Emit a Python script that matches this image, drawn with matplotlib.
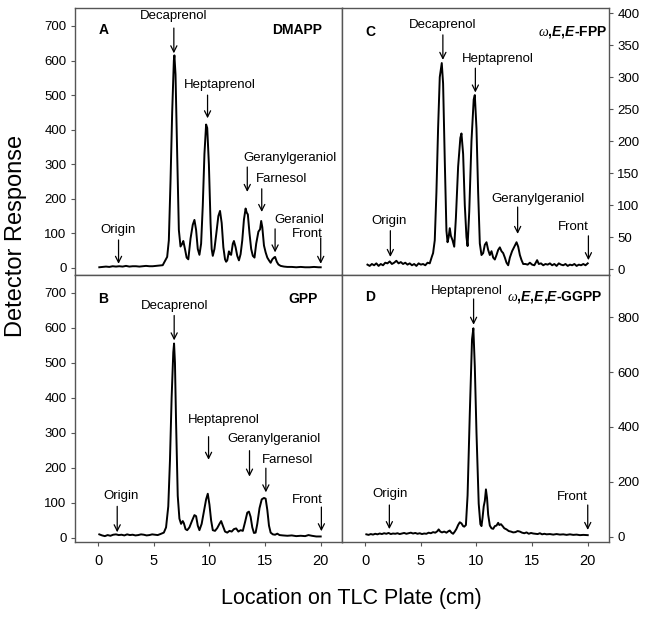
import matplotlib
matplotlib.use("Agg")
import matplotlib.pyplot as plt

plt.rcParams['font.family'] = ['Liberation Sans', 'DejaVu Sans']
plt.rcParams['mathtext.fontset'] = 'custom'
plt.rcParams['mathtext.it'] = 'Liberation Serif:italic'
plt.rcParams['mathtext.rm'] = 'Liberation Sans'
plt.rcParams['mathtext.bf'] = 'Liberation Sans:bold'
plt.rcParams['mathtext.bfit'] = 'Liberation Sans:bold:italic'

# ---- traces (cm, detector response) ----
a_x = [0.1, 0.4, 0.7, 1.0, 1.3, 1.6, 1.9, 2.2, 2.5, 2.8, 3.1, 3.4, 3.7, 4.0, 4.3, 4.6, 4.9, 5.2, 5.5, 5.8,
       6.0, 6.2, 6.35, 6.5, 6.65, 6.8, 6.85, 6.95, 7.1, 7.25, 7.4, 7.55, 7.65, 7.8, 7.95, 8.1, 8.3, 8.5, 8.65,
       8.8, 8.95, 9.1, 9.25, 9.4, 9.55, 9.7, 9.8, 9.95, 10.1, 10.2, 10.3, 10.45, 10.6, 10.8, 10.95, 11.1, 11.25,
       11.4, 11.5, 11.6, 11.75, 11.85, 11.95, 12.1, 12.2, 12.35, 12.5, 12.65, 12.8, 12.95, 13.1, 13.25, 13.35,
       13.45, 13.6, 13.75, 13.9, 14.05, 14.2, 14.4, 14.55, 14.65, 14.75, 14.9, 15.05, 15.2, 15.35, 15.5, 15.65,
       15.8, 15.9, 16.05, 16.2, 16.4, 16.7, 17.0, 17.4, 17.8, 18.2, 18.6, 19.0, 19.4, 19.8, 20.0]
a_y = [2, 3, 4, 3, 5, 4, 5, 4, 6, 4, 5, 5, 4, 5, 6, 5, 5, 6, 7, 8,
       20, 32, 80, 250, 450, 600, 615, 560, 330, 110, 62, 70, 78, 55, 30, 25, 85, 125, 139,
       110, 55, 38, 70, 180, 330, 415, 405, 300, 130, 55, 35, 55, 95, 150, 165, 130, 60,
       25, 18, 22, 48, 40, 38, 70, 78, 60, 35, 22, 40, 80, 140, 172, 160,
       155, 100, 55, 35, 30, 70, 105, 112, 136, 118, 65, 45, 30, 22, 15, 25,
       30, 32, 18, 10, 6, 4, 3, 3, 2, 3, 2, 2, 3, 2, 2]

b_x = [0.1, 0.35, 0.6, 0.85, 1.1, 1.35, 1.6, 1.85, 2.1, 2.35, 2.6, 2.85, 3.1, 3.35, 3.6, 3.85, 4.1, 4.35, 4.6, 4.85,
       5.1, 5.35, 5.6, 5.9, 6.1, 6.3, 6.45, 6.6, 6.75, 6.82, 6.9, 7.0, 7.15, 7.3, 7.45, 7.6, 7.7, 7.85, 8.0, 8.2,
       8.45, 8.65, 8.8, 8.95, 9.1, 9.3, 9.5, 9.7, 9.85, 10.0, 10.15, 10.3, 10.5, 10.7, 10.9, 11.05, 11.2, 11.4,
       11.6, 11.8, 12.0, 12.2, 12.4, 12.6, 12.8, 13.0, 13.2, 13.4, 13.55, 13.7, 13.85, 14.0, 14.15, 14.3, 14.5,
       14.7, 14.9, 15.05, 15.2, 15.35, 15.5, 15.7, 15.9, 16.1, 16.3, 16.6, 17.0, 17.4, 17.8, 18.2, 18.6, 18.9,
       19.2, 19.6, 20.0]
b_y = [10, 7, 5, 8, 6, 9, 10, 8, 9, 7, 10, 8, 9, 7, 8, 10, 9, 7, 8, 10,
       9, 8, 11, 15, 30, 90, 220, 400, 530, 555, 500, 330, 120, 55, 40, 48, 42, 25, 22, 30,
       50, 65, 62, 35, 22, 40, 75, 110, 126, 95, 50, 22, 20, 28, 40, 48, 35, 18,
       15, 20, 18, 25, 27, 18, 22, 20, 45, 72, 75, 60, 30, 14, 15, 40, 85,
       110, 114, 112, 80, 35, 15, 10, 9, 12, 8, 7, 6, 7, 5, 6, 5, 8,
       6, 4, 4]

c_x = [0.2, 0.4, 0.6, 0.8, 1.0, 1.2, 1.4, 1.6, 1.8, 2.0, 2.2, 2.4, 2.6, 2.8, 3.0, 3.2, 3.4, 3.6, 3.8, 4.0,
       4.2, 4.4, 4.6, 4.8, 5.0, 5.2, 5.4, 5.6, 5.8, 6.0, 6.1, 6.25, 6.4, 6.55, 6.7, 6.88, 7.0, 7.15, 7.3, 7.4,
       7.5, 7.6, 7.7, 7.85, 8.0, 8.15, 8.35, 8.55, 8.65, 8.8, 8.95, 9.1, 9.2, 9.35, 9.55, 9.75, 9.85, 10.0,
       10.15, 10.3, 10.45, 10.6, 10.75, 10.9, 11.05, 11.2, 11.35, 11.5, 11.65, 11.8, 11.95, 12.1, 12.25, 12.4,
       12.55, 12.7, 12.85, 13.0, 13.2, 13.4, 13.6, 13.75, 13.9, 14.05, 14.2, 14.4, 14.6, 14.8, 15.0, 15.2, 15.45,
       15.6, 15.8, 16.0, 16.2, 16.4, 16.6, 16.8, 17.0, 17.2, 17.4, 17.6, 17.8, 18.0, 18.2, 18.4, 18.6, 18.8,
       19.0, 19.2, 19.4, 19.6, 19.8, 20.0]
c_y = [7, 5, 8, 6, 9, 5, 8, 6, 10, 9, 12, 8, 10, 13, 9, 11, 8, 10, 7, 9,
       6, 8, 5, 9, 7, 8, 6, 10, 9, 20, 25, 45, 120, 220, 300, 322, 290, 170, 60, 42,
       50, 64, 52, 45, 35, 80, 160, 205, 212, 180, 100, 50, 36, 90, 200, 265, 272, 220,
       120, 40, 22, 25, 38, 42, 30, 22, 28, 18, 15, 22, 30, 34, 28, 25,
       18, 10, 6, 18, 28, 35, 42, 35, 22, 14, 8, 8, 7, 10, 7, 6, 14,
       8, 9, 6, 8, 7, 9, 6, 8, 5, 9, 7, 6, 8, 5, 7, 6, 8,
       5, 7, 6, 8, 6, 9]

d_x = [0.1, 0.3, 0.5, 0.7, 0.9, 1.1, 1.3, 1.5, 1.7, 1.9, 2.1, 2.3, 2.5, 2.7, 2.9, 3.1, 3.3, 3.5, 3.7, 3.9,
       4.1, 4.3, 4.5, 4.7, 4.9, 5.1, 5.3, 5.5, 5.7, 5.9, 6.1, 6.3, 6.5, 6.6, 6.75, 6.9, 7.1, 7.3, 7.5, 7.6,
       7.75, 7.9, 8.05, 8.2, 8.35, 8.5, 8.65, 8.8, 8.9, 9.05, 9.2, 9.4, 9.6, 9.72, 9.85, 10.0, 10.2, 10.35,
       10.45, 10.55, 10.65, 10.75, 10.85, 10.95, 11.05, 11.2, 11.35, 11.5, 11.65, 11.8, 11.95, 12.05, 12.2,
       12.35, 12.5, 12.7, 12.9, 13.1, 13.3, 13.5, 13.7, 13.9, 14.1, 14.3, 14.5, 14.7, 14.9, 15.1, 15.3, 15.5,
       15.7, 15.9, 16.1, 16.3, 16.6, 16.9, 17.2, 17.5, 17.8, 18.1, 18.4, 18.7, 19.0, 19.3, 19.6, 20.0]
d_y = [8, 6, 9, 7, 10, 8, 11, 9, 12, 10, 13, 9, 11, 10, 12, 9, 11, 13, 10, 12,
       14, 11, 13, 10, 12, 9, 11, 10, 14, 12, 16, 14, 20, 26, 18, 15, 18, 14, 20, 22,
       14, 10, 18, 28, 42, 52, 48, 38, 36, 42, 150, 450, 720, 760, 620, 380, 120, 45,
       38, 70, 110, 130, 172, 140, 80, 40, 30, 28, 38, 40, 50, 42, 45,
       38, 30, 26, 20, 18, 15, 16, 20, 18, 14, 12, 15, 10, 13, 11, 10, 9,
       12, 8, 10, 8, 9, 7, 9, 7, 8, 6, 8, 6, 7, 5, 6, 5]

# annotations: (label, arrow x, text x, text y, arrow start y, arrow tip y)
a_notes = [("Origin", 1.83, 1.8, 110, 81, 12), ("Decaprenol", 6.8, 6.77, 728, 694, 621),
           ("Heptaprenol", 9.83, 10.9, 530, 500, 433), ("Geranylgeraniol", 13.4, 17.2, 319, 292, 220),
           ("Farnesol", 14.7, 16.45, 258, 229, 162), ("Geraniol", 15.9, 18.05, 139, 113, 45),
           ("Front", 20.0, 18.8, 99, 87, 12)]
b_notes = [("Origin", 1.71, 2.05, 119, 90, 16), ("Decaprenol", 6.83, 6.83, 661, 635, 564),
           ("Heptaprenol", 9.92, 11.28, 337, 289, 223), ("Geranylgeraniol", 13.6, 15.8, 282, 249, 175),
           ("Farnesol", 15.07, 17.0, 221, 199, 130), ("Front", 20.06, 18.8, 109, 88, 19)]
c_notes = [("Origin", 2.26, 2.1, 75, 60, 19), ("Decaprenol", 6.98, 7.0, 382, 366, 327),
           ("Heptaprenol", 9.9, 11.9, 328, 314, 276), ("Geranylgeraniol", 13.7, 15.5, 110, 97, 55),
           ("Front", 20.06, 18.7, 66, 52, 14)]
d_notes = [("Origin", 2.17, 2.26, 155, 115, 27), ("Heptaprenol", 9.74, 9.17, 897, 867, 773),
           ("Front", 20.0, 18.65, 143, 115, 24)]

panels = [
    ("A", "DMAPP", a_x, a_y, a_notes, (-20, 752), range(0, 701, 100), 689, 20.15),
    ("B", "GPP", b_x, b_y, b_notes, (-11, 751), range(0, 701, 100), 683, 19.7),
    ("C", r"$\omega$,$\mathbfit{E}$,$\mathbfit{E}$-FPP", c_x, c_y, c_notes, (-9, 408), range(0, 401, 50), 371, 21.7),
    ("D", r"$\omega$,$\mathbfit{E}$,$\mathbfit{E}$,$\mathbfit{E}$-GGPP", d_x, d_y, d_notes, (-19, 955), range(0, 801, 200), 873, 21.3),
]

fig = plt.figure(figsize=(6.45, 6.17), dpi=100)
gs = fig.add_gridspec(2, 2, left=0.116, right=0.944, top=0.987, bottom=0.122, wspace=0, hspace=0)
slots = [(0, 0), (1, 0), (0, 1), (1, 1)]

for (letter, title, xs, ys, notes, ylim, yt, ty, tx), (r, c) in zip(panels, slots):
    ax = fig.add_subplot(gs[r, c])
    ax.plot(xs, ys, color='black', lw=1.4)
    ax.set_xlim(-2.1, 21.9)
    ax.set_ylim(*ylim)
    ax.set_xticks([0, 5, 10, 15, 20])
    ax.set_yticks(list(yt))
    for s in ax.spines.values():
        s.set_color('#555555')
        s.set_linewidth(1)
    ax.tick_params(direction='out', length=3, color='#555555', labelsize=9.5, pad=3)
    if c == 1:
        ax.yaxis.tick_right()
    if r == 0:
        ax.tick_params(axis='x', labelbottom=False)
    else:
        ax.tick_params(axis='x', labelsize=10.5, pad=6)

    ax.text(0.0, ty, letter, fontsize=10, fontweight='bold', ha='left', va='center')
    ax.text(tx, ty, title, fontsize=10, fontweight='bold', ha='right', va='center')

    for lab, axx, txx, tyy, y0, y1 in notes:
        ax.text(txx, tyy, lab, fontsize=9.5, ha='center', va='center')
        ax.annotate('', xy=(axx, y1), xytext=(axx, y0),
                    arrowprops=dict(arrowstyle='->', lw=0.9, color='black',
                                    shrinkA=0, shrinkB=0, mutation_scale=11))

fig.text(0.025, 0.618, "Detector Response", rotation=90, fontsize=17, ha='center', va='center')
fig.text(0.544, 0.03, "Location on TLC Plate (cm)", fontsize=15.5, ha='center', va='center')

fig.savefig("out.png", dpi=100)
